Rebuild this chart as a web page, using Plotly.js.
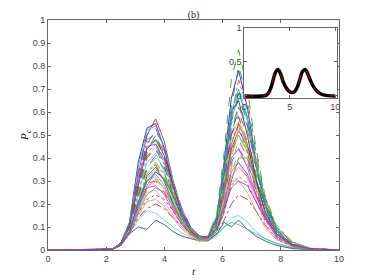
<!DOCTYPE html>
<html><head><meta charset="utf-8">
<script src="https://cdn.plot.ly/plotly-3.0.1.min.js"></script>
<style>body{margin:0;background:#fff}#c{width:374px;height:280px}</style>
</head><body><div id="c"></div>
<script>
const T = [0, 2.2, 2.5, 2.8, 3.1, 3.4, 3.7, 4.0, 4.3, 4.6, 4.9, 5.2, 5.5, 5.8, 6.05, 6.3, 6.55, 6.85, 7.15, 7.45, 7.85, 8.4, 9.0, 10];
const c1 = [0,0.004,0.03,0.12,0.38,0.53,0.55,0.44,0.28,0.16,0.08,0.05,0.06,0.14,0.38,0.66,0.78,0.62,0.38,0.2,0.08,0.025,0.006,0];
const c2 = [0,0.003,0.025,0.1,0.3,0.48,0.5,0.4,0.26,0.14,0.07,0.045,0.06,0.16,0.42,0.74,0.87,0.7,0.44,0.24,0.1,0.03,0.008,0];
const c3 = [0,0.004,0.03,0.11,0.33,0.5,0.57,0.47,0.3,0.17,0.09,0.05,0.05,0.1,0.26,0.46,0.55,0.46,0.3,0.17,0.07,0.02,0.005,0];
const c4 = [0,0.003,0.025,0.09,0.25,0.4,0.45,0.38,0.25,0.14,0.075,0.045,0.05,0.12,0.3,0.58,0.7,0.58,0.37,0.2,0.08,0.02,0.005,0];
const c5 = [0,0.003,0.02,0.08,0.2,0.32,0.36,0.3,0.2,0.12,0.07,0.045,0.05,0.1,0.24,0.44,0.52,0.45,0.3,0.17,0.07,0.02,0.004,0];
const c6 = [0,0.003,0.02,0.08,0.17,0.26,0.3,0.27,0.2,0.13,0.08,0.05,0.05,0.09,0.2,0.34,0.42,0.38,0.27,0.16,0.07,0.02,0.004,0];
const c7 = [0,0.003,0.025,0.1,0.28,0.44,0.48,0.41,0.28,0.16,0.09,0.05,0.055,0.13,0.34,0.6,0.65,0.5,0.31,0.17,0.07,0.02,0.005,0];
const c8 = [0,0.003,0.02,0.07,0.16,0.22,0.24,0.22,0.17,0.11,0.07,0.045,0.045,0.08,0.17,0.28,0.32,0.29,0.21,0.13,0.06,0.018,0.004,0];
const c9 = [0,0.003,0.02,0.08,0.22,0.36,0.4,0.36,0.26,0.17,0.1,0.06,0.05,0.08,0.18,0.36,0.48,0.46,0.35,0.22,0.1,0.03,0.007,0];
const c10 = [0,0.003,0.025,0.09,0.24,0.38,0.42,0.34,0.22,0.13,0.07,0.04,0.05,0.13,0.35,0.55,0.58,0.44,0.27,0.15,0.06,0.018,0.004,0];
const c11 = [0,0.003,0.02,0.07,0.14,0.18,0.2,0.18,0.14,0.1,0.065,0.045,0.045,0.07,0.13,0.2,0.24,0.22,0.17,0.11,0.05,0.015,0.004,0];
const c12 = [0,0.003,0.02,0.07,0.13,0.17,0.16,0.13,0.1,0.075,0.055,0.04,0.04,0.06,0.1,0.14,0.15,0.12,0.08,0.05,0.025,0.008,0.002,0];
const c13 = [0,0.003,0.02,0.07,0.1,0.09,0.13,0.11,0.08,0.06,0.05,0.04,0.04,0.07,0.12,0.1,0.13,0.09,0.06,0.04,0.02,0.006,0.002,0];
const c14 = [0,0.003,0.025,0.09,0.26,0.4,0.44,0.38,0.27,0.17,0.1,0.06,0.06,0.1,0.22,0.4,0.55,0.52,0.38,0.23,0.1,0.03,0.006,0];
const c15 = [0,0.003,0.02,0.08,0.2,0.3,0.32,0.26,0.18,0.11,0.065,0.04,0.045,0.11,0.3,0.5,0.56,0.44,0.28,0.15,0.06,0.016,0.004,0];
const c16 = [0,0.003,0.025,0.1,0.3,0.46,0.52,0.45,0.3,0.18,0.1,0.06,0.055,0.1,0.22,0.38,0.44,0.38,0.26,0.15,0.06,0.018,0.004,0];
const c17 = [0,0.003,0.02,0.08,0.19,0.27,0.28,0.24,0.17,0.11,0.07,0.045,0.05,0.1,0.24,0.4,0.44,0.36,0.24,0.14,0.06,0.017,0.004,0];
const c18 = [0,0.003,0.02,0.08,0.21,0.33,0.38,0.33,0.23,0.14,0.08,0.05,0.05,0.11,0.28,0.5,0.62,0.54,0.36,0.2,0.08,0.022,0.005,0];
const c19 = [0,0.003,0.02,0.07,0.15,0.21,0.22,0.19,0.14,0.09,0.06,0.04,0.045,0.09,0.2,0.3,0.3,0.25,0.17,0.1,0.045,0.014,0.003,0];
const c20 = [0,0.003,0.025,0.09,0.27,0.43,0.5,0.42,0.28,0.16,0.09,0.05,0.05,0.11,0.29,0.52,0.6,0.5,0.33,0.19,0.08,0.022,0.005,0];
const c21 = [0,0.003,0.02,0.08,0.18,0.28,0.34,0.31,0.23,0.15,0.09,0.055,0.05,0.08,0.16,0.3,0.4,0.4,0.31,0.2,0.1,0.035,0.008,0];
const c22 = [0,0.003,0.025,0.09,0.23,0.35,0.37,0.3,0.2,0.12,0.07,0.045,0.05,0.12,0.32,0.56,0.66,0.56,0.36,0.19,0.07,0.02,0.004,0];
const c23 = [0,0.003,0.02,0.08,0.17,0.25,0.26,0.21,0.15,0.1,0.065,0.045,0.05,0.1,0.22,0.36,0.38,0.31,0.21,0.12,0.05,0.015,0.003,0];
const c24 = [0,0.003,0.025,0.1,0.31,0.47,0.47,0.37,0.24,0.14,0.08,0.05,0.05,0.1,0.26,0.48,0.54,0.42,0.26,0.14,0.055,0.015,0.003,0];
const c25 = [0,0.003,0.02,0.07,0.16,0.24,0.27,0.25,0.19,0.12,0.075,0.05,0.05,0.07,0.1,0.12,0.11,0.09,0.07,0.05,0.03,0.01,0.003,0];
const c26 = [0,0.003,0.02,0.08,0.22,0.34,0.38,0.32,0.22,0.13,0.075,0.045,0.05,0.12,0.3,0.48,0.5,0.4,0.27,0.16,0.07,0.02,0.005,0];
const c27 = [0,0.003,0.025,0.1,0.3,0.45,0.46,0.39,0.28,0.18,0.1,0.06,0.055,0.09,0.2,0.34,0.38,0.33,0.24,0.15,0.07,0.02,0.005,0];
const c28 = [0,0.003,0.02,0.08,0.2,0.29,0.3,0.25,0.18,0.12,0.07,0.045,0.05,0.11,0.27,0.44,0.48,0.4,0.27,0.16,0.07,0.02,0.004,0];
const c29 = [0,0.004,0.03,0.12,0.36,0.52,0.54,0.45,0.3,0.17,0.09,0.05,0.06,0.15,0.36,0.6,0.7,0.56,0.36,0.2,0.08,0.02,0.005,0];
const c30 = [0,0.003,0.025,0.1,0.28,0.42,0.46,0.4,0.27,0.16,0.09,0.055,0.06,0.14,0.34,0.58,0.74,0.62,0.4,0.22,0.09,0.025,0.006,0];
const c31 = [0,0.003,0.02,0.09,0.24,0.36,0.41,0.35,0.24,0.15,0.085,0.05,0.055,0.12,0.3,0.52,0.63,0.55,0.37,0.21,0.09,0.025,0.006,0];
const c32 = [0,0.003,0.02,0.08,0.2,0.31,0.35,0.3,0.21,0.13,0.075,0.045,0.05,0.1,0.25,0.42,0.5,0.43,0.29,0.17,0.07,0.02,0.005,0];
const c33 = [0,0.004,0.03,0.11,0.34,0.5,0.53,0.43,0.28,0.16,0.085,0.05,0.055,0.12,0.3,0.5,0.58,0.47,0.3,0.17,0.07,0.02,0.005,0];
const c34 = [0,0.003,0.02,0.08,0.19,0.3,0.33,0.28,0.2,0.12,0.07,0.045,0.05,0.13,0.33,0.56,0.68,0.58,0.38,0.21,0.085,0.024,0.005,0];
const c35 = [0,0.003,0.025,0.09,0.22,0.33,0.37,0.33,0.24,0.16,0.095,0.06,0.06,0.1,0.22,0.4,0.52,0.5,0.38,0.24,0.11,0.035,0.008,0];
const c36 = [0,0.003,0.02,0.07,0.17,0.27,0.31,0.27,0.19,0.12,0.07,0.045,0.05,0.09,0.19,0.32,0.36,0.32,0.23,0.14,0.06,0.018,0.004,0];
const c37 = [0,0.003,0.025,0.1,0.27,0.41,0.44,0.36,0.24,0.14,0.08,0.05,0.055,0.14,0.36,0.62,0.8,0.66,0.42,0.23,0.09,0.025,0.006,0];
const c38 = [0,0.003,0.02,0.08,0.21,0.3,0.34,0.31,0.24,0.16,0.1,0.06,0.055,0.09,0.18,0.27,0.3,0.28,0.21,0.14,0.07,0.022,0.005,0];
const curves = [c1,c2,c3,c4,c5,c6,c7,c8,c9,c10,c11,c12,c13,c14,c15,c16,c17,c18,c19,c20,c21,c22,c23,c24,c25,c26,c27,c28,c29,c30,c31,c32,c33,c34,c35,c36,c37,c38];

// inset: mean curve (black) and fitted curve (red dashed)
const TI = [0, 2.2, 2.5, 2.8, 3.1, 3.4, 3.7, 4.0, 4.3, 4.6, 4.9, 5.2, 5.5, 5.8, 6.1, 6.4, 6.7, 7.0, 7.3, 7.6, 8.0, 8.5, 9.0, 10];
const meanP = [0,0.003,0.02,0.08,0.2,0.34,0.39,0.32,0.2,0.12,0.07,0.05,0.06,0.12,0.24,0.36,0.39,0.32,0.22,0.14,0.07,0.025,0.008,0];
const fitP  = [0,0.004,0.022,0.08,0.21,0.345,0.385,0.31,0.2,0.12,0.072,0.05,0.058,0.118,0.245,0.365,0.385,0.315,0.22,0.14,0.068,0.024,0.008,0];

const colors = ['#0000ff','#1a9a1a','#ff0000','#00bfbf','#bf00bf','#bfbf00','#202050','#7e2f8e','#77ac30','#4dbeee',
  '#a2142f','#40e0d0','#1f3f7f','#d95319','#edb120','#0072bd','#ff00ff','#00a000','#ff7f50','#8b4513',
  '#2e8b57','#006400','#dda0dd','#4169e1','#3cb371','#e0e000','#9932cc','#ff1493','#00ced1','#ff4500',
  '#6a5acd','#32cd32','#c71585','#1e90ff','#9acd32','#ff6347','#228b22','#8a2be2'];
const dashes = ['solid','dash','solid','dashdot','solid','dash','solid','dot','dash','solid','dashdot','solid','solid','dash',
  'solid','dash','solid','dashdot','solid','dash','solid','dash','solid','dot','solid','dashdot','solid','dash',
  'solid','dashdot','dash','solid','dash','solid','dashdot','solid','dash','solid'];

const traces = curves.map((c,i)=>({x:T,y:c,type:'scatter',mode:'lines',xaxis:'x',yaxis:'y',
  line:{color:colors[i%colors.length],width:0.8,dash:dashes[i%dashes.length]},hoverinfo:'skip',showlegend:false}));

traces.push({x:[0,10.2,10.2,0,0],y:[-0.03,-0.03,1,1,-0.03],xaxis:'x2',yaxis:'y2',type:'scatter',mode:'lines',
  fill:'toself',fillcolor:'#ffffff',line:{width:0},hoverinfo:'skip',showlegend:false});
traces.push({x:TI,y:meanP,xaxis:'x2',yaxis:'y2',type:'scatter',mode:'lines',line:{color:'#000',width:3.5,shape:'spline'},hoverinfo:'skip',showlegend:false});
traces.push({x:TI,y:fitP,xaxis:'x2',yaxis:'y2',type:'scatter',mode:'lines',line:{color:'#ff0000',width:0.8,dash:'dash',shape:'spline'},hoverinfo:'skip',showlegend:false});

const tickFont = {family:'Liberation Sans, Arial, sans-serif',size:9,color:'#444'};
const ax = {showline:true,linecolor:'#666',linewidth:1,mirror:'ticks',ticks:'inside',ticklen:3,tickcolor:'#666',
  showgrid:false,zeroline:false,tickfont:tickFont};

const layout = {
  width:374,height:280,margin:{l:48,r:35,t:20,b:30},
  paper_bgcolor:'#fff',plot_bgcolor:'#fff',showlegend:false,
  title:{text:'(b)',font:{family:'Liberation Serif, serif',size:10,color:'#222'},x:0.5,xref:'paper',y:0.95,yref:'container',yanchor:'middle'},
  xaxis:Object.assign({},ax,{range:[0,10],tickvals:[0,2,4,6,8,10],domain:[0,1],
    title:{text:'<i>t</i>',font:{family:'Liberation Serif, serif',size:11,color:'#222'},standoff:4}}),
  yaxis:Object.assign({},ax,{range:[0,1],tickvals:[0,0.1,0.2,0.3,0.4,0.5,0.6,0.7,0.8,0.9,1],domain:[0,1],
    title:{text:'<i>P<sub>c</sub></i>',font:{family:'Liberation Serif, serif',size:11,color:'#222'},standoff:0}}),
  xaxis2:Object.assign({},ax,{range:[0,10.2],tickvals:[0,5,10],domain:[0.675,0.993],anchor:'y2'}),
  yaxis2:Object.assign({},ax,{range:[-0.03,1],tickvals:[0,0.5,1],domain:[0.661,0.965],anchor:'x2'})
};
Plotly.newPlot('c',traces,layout,{staticPlot:true,displayModeBar:false});
</script></body></html>
